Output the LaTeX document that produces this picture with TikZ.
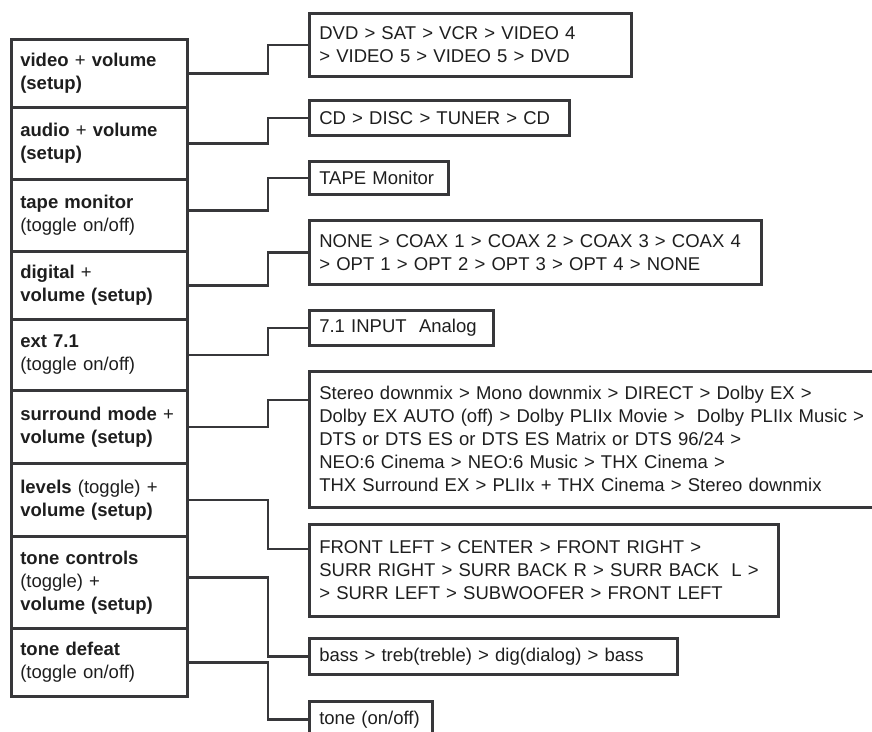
\documentclass[tikz,border=0pt]{standalone}
\usepackage{fontspec}
\setmainfont{Liberation Sans}
\definecolor{lc}{RGB}{55,55,58}
\definecolor{tc}{RGB}{30,30,30}
\newcommand{\oneline}[1]{\mbox{#1}}
\begin{document}
\begin{tikzpicture}[x=1pt,y=-1pt,
  every node/.style={font=\fontsize{18.5}{23}\selectfont, text=tc},
  lrow/.style={draw=lc, line width=2.6pt, anchor=north west, minimum width=176pt,
    inner xsep=9pt, inner ysep=0pt, text width=158pt, align=left},
  rbox/.style={draw=lc, line width=2.6pt, anchor=north west, inner xsep=10pt,
    inner ysep=0pt, align=left},
  conn/.style={draw=lc, line width=2.5pt}]
\useasboundingbox (0,0) rectangle (872,731);
% left column
\node[lrow, minimum height=68pt] (r1) at (10,38) {\oneline{\textbf{video} + \textbf{volume}}\\\textbf{(setup)}};
\node[lrow, minimum height=72pt] (r2) at (10,106) {\oneline{\textbf{audio} + \textbf{volume}}\\\textbf{(setup)}};
\node[lrow, minimum height=72pt] (r3) at (10,178) {\oneline{\textbf{tape monitor}}\\\oneline{(toggle on/off)}};
\node[lrow, minimum height=68pt] (r4) at (10,250) {\oneline{\textbf{digital} +}\\\oneline{\textbf{volume (setup)}}};
\node[lrow, minimum height=71pt] (r5) at (10,318) {\oneline{\textbf{ext 7.1}}\\\oneline{(toggle on/off)}};
\node[lrow, minimum height=73pt] (r6) at (10,389) {\oneline{\textbf{surround mode} +}\\\oneline{\textbf{volume (setup)}}};
\node[lrow, minimum height=73pt] (r7) at (10,462) {\oneline{\textbf{levels} (toggle) +}\\\oneline{\textbf{volume (setup)}}};
\node[lrow, minimum height=92pt] (r8) at (10,535) {\oneline{\textbf{tone controls}}\\(toggle) +\\\oneline{\textbf{volume (setup)}}};
\node[lrow, minimum height=68pt] (r9) at (10,627) {\oneline{\textbf{tone defeat}}\\\oneline{(toggle on/off)}};
% right boxes
\node[rbox, text width=302pt, minimum height=63pt] (dvd) at (308,12) {\oneline{DVD > SAT > VCR > VIDEO 4}\\\oneline{> VIDEO 5 > VIDEO 5 > DVD}};
\node[rbox, text width=240pt, minimum height=35pt] (cd) at (308,99) {\oneline{CD > DISC > TUNER > CD}};
\node[rbox, text width=119pt, minimum height=33pt] (tape) at (308,160) {\oneline{TAPE Monitor}};
\node[rbox, text width=432pt, minimum height=64pt] (dig) at (308,219) {\oneline{NONE > COAX 1 > COAX 2 > COAX 3 > COAX 4}\\\oneline{> OPT 1 > OPT 2 > OPT 3 > OPT 4 > NONE}};
\node[rbox, text width=164pt, minimum height=35pt] (ext) at (308,309) {\oneline{7.1 INPUT\ \ Analog}};
\node[rbox, text width=572pt, minimum height=136pt] (st) at (308,370) {\oneline{Stereo downmix > Mono downmix > DIRECT > Dolby EX >}\\\oneline{Dolby EX AUTO (off) > Dolby PLIIx Movie >\ \ Dolby PLIIx Music >}\\\oneline{DTS or DTS ES or DTS ES Matrix or DTS 96/24 >}\\\oneline{NEO:6 Cinema > NEO:6 Music > THX Cinema >}\\\oneline{THX Surround EX > PLIIx + THX Cinema > Stereo downmix}};
\node[rbox, text width=449pt, minimum height=92pt] (fr) at (308,523) {\oneline{FRONT LEFT > CENTER > FRONT RIGHT >}\\\oneline{SURR RIGHT > SURR BACK R > SURR BACK\ \ L >}\\\oneline{> SURR LEFT > SUBWOOFER > FRONT LEFT}};
\node[rbox, text width=348pt, minimum height=36pt] (bass) at (308,637) {\oneline{bass > treb(treble) > dig(dialog) > bass}};
\node[rbox, text width=103pt, minimum height=36pt] (tone) at (308,700) {\oneline{tone (on/off)}};
% connectors
\coordinate (jx) at (268,0);
\draw[conn] (r1.east) -- (r1.east -| jx) |- (dvd.west);
\draw[conn] (r2.east) -- (r2.east -| jx) |- (cd.west);
\draw[conn] ([yshift=5pt]r3.east) -- ([yshift=5pt]r3.east -| jx) |- (tape.west);
\draw[conn] (r4.east) -- (r4.east -| jx) |- (dig.west);
\draw[conn] (r5.east) -- (r5.east -| jx) |- (ext.west);
\draw[conn] (r6.east) -- (r6.east -| jx) |- ([yshift=-30pt]st.north west);
\draw[conn] (r7.east) -- (r7.east -| jx) |- ([yshift=-26pt]fr.north west);
\draw[conn] ([yshift=5pt]r8.east) -- ([yshift=5pt]r8.east -| jx) |- (bass.west);
\draw[conn] (r9.east) -- (r9.east -| jx) |- (tone.west);
\end{tikzpicture}
\end{document}
